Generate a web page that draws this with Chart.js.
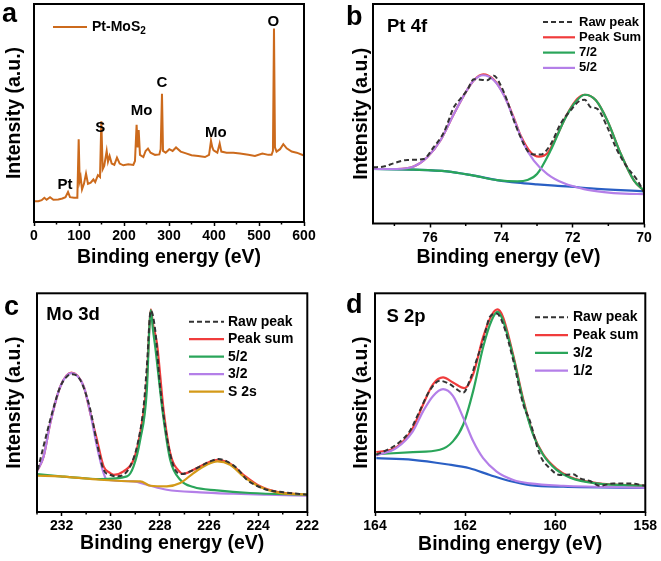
<!DOCTYPE html>
<html>
<head>
<meta charset="utf-8">
<script src="https://cdn.jsdelivr.net/npm/chart.js@4/dist/chart.umd.min.js"></script>
<style>
  body { margin: 0; background: #fff; }
  #wrap { position: relative; width: 661px; height: 561px; }
  canvas { position: absolute; }
</style>
</head>
<body>
<div id="wrap">
  <canvas id="cvA" width="330" height="280" style="left:0;top:0"></canvas>
  <canvas id="cvB" width="331" height="280" style="left:330px;top:0"></canvas>
  <canvas id="cvC" width="330" height="281" style="left:0;top:280px"></canvas>
  <canvas id="cvD" width="331" height="281" style="left:330px;top:280px"></canvas>
</div>
<script>
"use strict";

// ---- data: [binding energy (eV), intensity (a.u.)] ----

// (a) survey spectrum
const surveyTicks = [0, 100, 200, 300, 400, 500, 600];
const surveyMinor = [50, 150, 250, 350, 450, 550];
const survey = [
  [0, 9.5], [9.6, 9.5], [17, 10], [23, 11.1], [28, 10.2], [35.6, 11.4], [43, 10.2], [54, 10.3],
  [63, 10.8], [70, 11.4], [75.6, 13.8], [80, 11.4], [89, 11.1], [96.3, 11.1], [99.3, 38],
  [101.5, 18.8], [103.7, 20.6], [106.7, 14.9], [111, 17.5], [115.6, 22.2], [120, 17.5],
  [126, 18], [132, 19.5], [136, 18.3], [142, 21.5], [146.7, 20.6], [149.6, 46.2], [152.6, 24.2],
  [156, 25.7], [161.5, 32.6], [164.4, 27.7], [168, 30.3], [172.6, 26.8], [178.5, 26.2],
  [184.4, 29.5], [190.4, 26.8], [198.5, 26], [209.6, 26.5], [220.7, 26.2], [224.4, 28],
  [228, 44.6], [230.4, 34.2], [232.6, 42.2], [235.5, 30.8], [243, 29.8], [248, 32.6],
  [253.3, 33.7], [259, 31.8], [269, 30.8], [278.5, 31], [281.5, 33.4], [284.4, 58.8],
  [286.7, 32.6], [292.6, 31.8], [300.7, 33.4], [308, 32.6], [315.6, 34.2], [326, 32.3],
  [337.8, 31.5], [350, 30.6], [365, 30.3], [380, 29.8], [389, 30.8], [393.3, 37.2],
  [396.3, 34.2], [399, 32.9], [407.4, 31.8], [412.6, 36], [416.3, 32.3], [428, 31.8],
  [443, 31.8], [457.8, 31.4], [476.3, 30.8], [491, 30.3], [507.4, 31.4], [520.7, 30.8],
  [528, 30.8], [531, 32.6], [533.3, 88.8], [535.5, 34.2], [539, 32.3], [546.7, 33.4],
  [554, 35.7], [561.5, 33.8], [572.6, 32.3], [583.7, 31.8], [598.5, 30.6], [600, 30.5]
];
const surveyPeakNames = ['Pt', 'S', 'Mo', 'C', 'Mo', 'O'];
const surveyPeakEv = [69, 147, 239, 284, 404, 532];
const surveyPeakY = [17, 43, 51, 64, 41, 92];

// (b) Pt 4f
const ptTicks = [76, 74, 72, 70];
const ptMinor = [77, 75, 73, 71];
const ptRaw = [
  [77.6, 56], [77.3, 56.7], [77.02, 60], [76.64, 63.3], [76.18, 64.3], [75.9, 76], [75.61, 91],
  [75.33, 116], [75.15, 124.3], [74.96, 132.7], [74.77, 143.7], [74.59, 143.3], [74.4, 142.7],
  [74.21, 147.3], [74.02, 137.7], [73.84, 122.7], [73.65, 102.7], [73.46, 86], [73.27, 72.7],
  [73.09, 68.7], [72.9, 68.7], [72.62, 78.7], [72.34, 99.3], [72.06, 112.7], [71.78, 122.7],
  [71.66, 123.3], [71.5, 116], [71.31, 114.3], [71.03, 96], [70.75, 72.7], [70.47, 56],
  [70.18, 42.7], [70, 31]
];
const ptSum = [
  [77.6, 54.3], [76.93, 54.3], [76.46, 56.7], [76.08, 66], [75.71, 82.7], [75.33, 109.3],
  [75.05, 127.7], [74.77, 142.7], [74.51, 148.7], [74.21, 143.3], [73.93, 128.3], [73.65, 105.3],
  [73.46, 87.7], [73.18, 71], [72.95, 66.7], [72.71, 70], [72.43, 88.3], [72.15, 109.3],
  [71.87, 124.3], [71.66, 128.3], [71.35, 122.7], [71.03, 102.7], [70.65, 69.3], [70.28, 42.7],
  [70, 32.7]
];
const pt72 = [
  [77.6, 54.3], [76.46, 53.7], [75.52, 52], [74.77, 47.7], [74.12, 43.3], [73.55, 42],
  [73.27, 43.3], [73, 49.3], [72.62, 72.7], [72.24, 102.7], [71.96, 119.3], [71.66, 128.3],
  [71.35, 122.7], [71.03, 102.7], [70.65, 69.3], [70.28, 42.7], [70, 32.7]
];
const pt52 = [
  [77.6, 54.3], [76.93, 54.3], [76.46, 56.7], [76.08, 66], [75.71, 82.7], [75.33, 109.3],
  [75.05, 127.7], [74.77, 142.7], [74.51, 147.7], [74.21, 142.7], [73.93, 127.7], [73.65, 104.3],
  [73.37, 79.3], [73.09, 62.7], [72.71, 49.3], [72.24, 40], [71.68, 34.3], [71.12, 31.3],
  [70.56, 29.7], [70, 29.3]
];
const ptBg = [
  [77.6, 54.3], [76.46, 53.7], [75.52, 52], [74.77, 47.7], [74.12, 43.3], [73.55, 40.7],
  [73, 39], [72.5, 37.7], [72.06, 36.7], [71.5, 35], [70, 32]
];

// (c) Mo 3d
const moTicks = [232, 230, 228, 226, 224, 222];
const moMinor = [233, 231, 229, 227, 225, 223];
const moRaw = [
  [232.97, 42.3], [232.46, 92.3], [232.05, 125.7], [231.78, 135.7], [231.58, 138], [231.24, 132.3],
  [230.83, 102.3], [230.56, 69], [230.29, 42.3], [230.02, 37.3], [229.75, 35.7], [229.48, 37.3],
  [229.21, 45.7], [228.93, 65.7], [228.66, 105.7], [228.53, 145.7], [228.37, 201.7],
  [228.19, 182.3], [227.99, 125.7], [227.72, 75.7], [227.44, 45.7], [227.11, 38], [226.77, 40.7],
  [226.36, 45.7], [225.95, 50.7], [225.62, 53], [225.28, 50.7], [224.87, 44], [224.46, 32.3],
  [224.06, 26.3], [223.65, 22.3], [222.97, 19.7], [222, 17.3]
];
const moSum = [
  [233, 40.7], [232.73, 55.7], [232.46, 89], [232.05, 125.7], [231.6, 139.7], [231.1, 125.7],
  [230.83, 99], [230.56, 72.3], [230.29, 45.7], [230.02, 39], [229.88, 37.3], [229.48, 40.7],
  [229.07, 52.3], [228.8, 79], [228.53, 132.3], [228.43, 184], [228.37, 203], [228.28, 188],
  [228.12, 169], [227.85, 102.3], [227.58, 59], [227.17, 39.7], [227.04, 38.3], [226.63, 42.3],
  [226.09, 49], [225.66, 52.3], [225.14, 48.3], [224.6, 37.3], [223.92, 25.7], [223.24, 20.3],
  [222, 17.3]
];
const mo52 = [
  [233, 38], [232.05, 35.7], [230.83, 33.3], [230.43, 33], [229.34, 35.7], [229.07, 45.7],
  [228.8, 72.3], [228.53, 122.3], [228.43, 182.3], [228.37, 202.3], [228.28, 182.3],
  [228.19, 165.7], [227.88, 99], [227.58, 52.3], [227.17, 32.3], [226.63, 25], [225.68, 21.7],
  [224.33, 19], [222, 17.3]
];
const mo32 = [
  [233, 40.7], [232.73, 55.7], [232.46, 89], [232.05, 125.7], [231.6, 139], [231.1, 125.7],
  [230.83, 99], [230.56, 65.7], [230.29, 39], [230.15, 32.3], [229.07, 30.7], [228.53, 27.3],
  [227.72, 22.3], [226.36, 19.7], [225.01, 18.3], [223.65, 17.3], [222, 16.3]
];
const moS2s = [
  [233, 36.3], [232.05, 35.7], [230.43, 32.3], [229.07, 30.7], [228.8, 30.7], [228.39, 26.3],
  [227.72, 25.7], [227.17, 29], [226.63, 39], [226.09, 47.3], [225.66, 50.7], [225.14, 47.3],
  [224.6, 35.7], [223.92, 25], [223.24, 19.7], [222, 17.3]
];

// (d) S 2p
const sTicks = [164, 162, 160, 158];
const sMinor = [163, 161, 159];
const sRaw = [
  [163.97, 56.7], [163.53, 66.7], [163.23, 80], [163.01, 100], [162.79, 120], [162.56, 130],
  [162.34, 126.7], [162.19, 121.7], [162.04, 118.3], [161.9, 130], [161.75, 150], [161.6, 170],
  [161.45, 193.3], [161.3, 196.7], [161.16, 186.7], [160.93, 150], [160.71, 106.7], [160.56, 90],
  [160.34, 56.7], [160.12, 43.3], [159.9, 36.7], [159.6, 37.3], [159.45, 33.3], [159.23, 30.7],
  [159.01, 26], [158.71, 28.3], [158.34, 28.3], [158, 26]
];
const sSum = [
  [163.97, 59.3], [163.53, 64], [163.16, 83.3], [162.93, 106.7], [162.71, 126.7], [162.49, 133.3],
  [162.27, 128.3], [162.01, 122.7], [161.82, 136.7], [161.6, 173.3], [161.41, 195], [161.28, 200.7],
  [161.16, 193.3], [160.93, 155], [160.71, 111.7], [160.49, 77.3], [160.27, 57.3], [159.97, 42.7],
  [159.67, 34.7], [159.08, 28.7], [158, 26]
];
const s32 = [
  [163.97, 57.3], [163.16, 59.3], [162.56, 61.7], [162.27, 70], [162.04, 86.7], [161.82, 120],
  [161.6, 163.3], [161.41, 190], [161.28, 198.3], [161.16, 190], [160.93, 153.3], [160.71, 110],
  [160.49, 76.7], [160.27, 56.7], [159.97, 41.7], [159.67, 34], [159.08, 28.3], [158, 26]
];
const s12 = [
  [163.97, 56], [163.53, 63.3], [163.16, 80], [162.93, 100], [162.71, 115], [162.49, 121.7],
  [162.27, 115], [162.04, 93.3], [161.82, 70], [161.6, 53.3], [161.3, 40], [160.93, 31.7],
  [160.56, 28.3], [159.82, 26], [158, 24]
];
const sBg = [
  [163.97, 53.3], [163.16, 51.7], [162.41, 47.3], [161.9, 43.3], [161.45, 36.7], [161.01, 30.7],
  [160.56, 26.7], [159.82, 25], [158, 24]
];

// ---- styling ----
const FONT = "'Liberation Sans', Arial, sans-serif";
const RED = '#f03c3c', GREEN = '#2aa55a', PURPLE = '#b47fe8', GOLD = '#d49a18',
      BLUE = '#2a5fc4', ORANGE = '#cc6a1c', RAW = '#333333';

const toXY = arr => arr.map(p => ({ x: p[0], y: p[1] }));

function line(label, data, color, order, extra) {
  return Object.assign({
    label: label,
    data: toXY(data),
    borderColor: color,
    borderWidth: 2.2,
    pointRadius: 0,
    tension: 0.35,
    cubicInterpolationMode: 'monotone',
    fill: false,
    order: order
  }, extra || {});
}

// frame, minor ticks, in-plot legend, panel letter and texts
const panelPlugin = {
  id: 'panel',
  afterDraw(chart, args, o) {
    const { ctx, chartArea: a } = chart;
    const x = chart.scales.x, y = chart.scales.y;
    ctx.save();
    ctx.strokeStyle = '#000';
    ctx.lineWidth = 1.5;
    (o.minor || []).forEach(v => {
      const px = x.getPixelForValue(v);
      ctx.beginPath(); ctx.moveTo(px, a.bottom); ctx.lineTo(px, a.bottom + 2.5); ctx.stroke();
    });
    ctx.lineWidth = 2;
    ctx.strokeRect(a.left, a.top, a.right - a.left, a.bottom - a.top);

    ctx.fillStyle = '#000';
    ctx.textBaseline = 'alphabetic';
    ctx.textAlign = 'left';
    ctx.font = 'bold 27px ' + FONT;
    ctx.fillText(o.letter, o.letterX, o.letterY);

    if (o.title) {
      ctx.textBaseline = 'middle';
      ctx.font = 'bold 18.5px ' + FONT;
      ctx.fillText(o.title, a.left + o.titleDx, a.top + o.titleDy);
    }

    // legend
    const lg = o.legend;
    if (lg) {
      ctx.textBaseline = 'middle';
      lg.items.forEach((di, i) => {
        const ds = chart.data.datasets[di];
        const ly = lg.y + i * lg.dy;
        ctx.strokeStyle = ds.borderColor;
        ctx.lineWidth = ds.borderWidth;
        ctx.setLineDash(ds.borderDash || []);
        ctx.beginPath(); ctx.moveTo(lg.x, ly); ctx.lineTo(lg.x + lg.len, ly); ctx.stroke();
        ctx.setLineDash([]);
        ctx.fillStyle = '#000';
        const parts = ds.label.split('_');
        ctx.font = 'bold ' + lg.size + 'px ' + FONT;
        let tx = lg.x + lg.len + lg.gap;
        ctx.fillText(parts[0], tx, ly);
        if (parts[1]) {
          tx += ctx.measureText(parts[0]).width;
          ctx.font = 'bold ' + Math.round(lg.size * 0.7) + 'px ' + FONT;
          ctx.fillText(parts[1], tx, ly + 4);
        }
      });
    }

    // peak labels in data coordinates
    if (o.peaks) {
      ctx.font = 'bold 15px ' + FONT;
      ctx.textAlign = 'center';
      ctx.textBaseline = 'middle';
      ctx.fillStyle = '#000';
      o.peaks.names.forEach((n, i) => {
        ctx.fillText(n, x.getPixelForValue(o.peaks.ev[i]), y.getPixelForValue(o.peaks.y[i]));
      });
    }
    ctx.restore();
  }
};

function makeChart(id, cfg) {
  const ctx = document.getElementById(id).getContext('2d');
  return new Chart(ctx, {
    type: 'line',
    data: { datasets: cfg.datasets },
    plugins: [panelPlugin],
    options: {
      responsive: false,
      animation: false,
      layout: { padding: cfg.pad },
      plugins: { legend: { display: false }, tooltip: { enabled: false }, panel: cfg.panel },
      scales: {
        x: {
          type: 'linear',
          min: cfg.xmin, max: cfg.xmax, reverse: cfg.reverse,
          afterBuildTicks: s => { s.ticks = cfg.ticks.map(v => ({ value: v })); },
          afterFit: s => { s.height = cfg.xh; },
          grid: { display: true, drawOnChartArea: false, drawTicks: true, tickLength: 4, tickWidth: 1.5, tickColor: '#000' },
          border: { display: false },
          ticks: { color: '#000', padding: 2, maxRotation: 0, autoSkip: false,
                   font: { family: FONT, size: 14, weight: 'bold' }, callback: v => String(v) },
          title: { display: true, text: 'Binding energy (eV)', color: '#000',
                   font: { family: FONT, size: 19.5, weight: 'bold' }, padding: { top: 0, bottom: cfg.titlePad } }
        },
        y: {
          min: 0, max: cfg.ymax,
          afterFit: s => { s.width = cfg.yw; },
          grid: { display: false },
          border: { display: false },
          ticks: { display: false },
          title: { display: true, text: 'Intensity (a.u.)', color: '#000',
                   font: { family: FONT, size: 19.5, weight: 'bold' }, padding: { top: cfg.yTitlePad, bottom: 0 } }
        }
      }
    }
  });
}

// (a) survey
makeChart('cvA', {
  datasets: [line('Pt-MoS_2', survey, ORANGE, 0, { tension: 0, borderWidth: 2, cubicInterpolationMode: 'default' })],
  pad: { left: 0, right: 26, top: 4, bottom: 0 },
  xmin: 0, xmax: 600, reverse: false, ticks: surveyTicks, ymax: 100,
  xh: 58, yw: 34, titlePad: 11, yTitlePad: 3,
  panel: {
    minor: surveyMinor, letter: 'a', letterX: 2, letterY: 22,
    legend: { items: [0], x: 53, y: 27, dy: 16, len: 34, gap: 5, size: 14 },
    peaks: { names: surveyPeakNames, ev: surveyPeakEv, y: surveyPeakY }
  }
});

// (b) Pt 4f
makeChart('cvB', {
  datasets: [
    line('Raw peak', ptRaw, RAW, 0, { borderDash: [5, 3], borderWidth: 2, tension: 0.25 }),
    line('Peak Sum', ptSum, RED, 3),
    line('7/2', pt72, GREEN, 2),
    line('5/2', pt52, PURPLE, 1),
    line('bg', ptBg, BLUE, 4)
  ],
  pad: { left: 0, right: 17, top: 4, bottom: 0 },
  xmin: 70, xmax: 77.6, reverse: true, ticks: ptTicks, ymax: 218.7,
  xh: 56.5, yw: 43, titlePad: 11, yTitlePad: 20,
  panel: {
    minor: ptMinor, letter: 'b', letterX: 16, letterY: 25,
    title: 'Pt 4f', titleDx: 14, titleDy: 23,
    legend: { items: [0, 1, 2, 3], x: 213, y: 22, dy: 15.3, len: 32, gap: 4, size: 13 }
  }
});

// (c) Mo 3d
makeChart('cvC', {
  datasets: [
    line('Raw peak', moRaw, RAW, 0, { borderDash: [5, 3], borderWidth: 2, tension: 0.25 }),
    line('Peak sum', moSum, RED, 4),
    line('5/2', mo52, GREEN, 2),
    line('3/2', mo32, PURPLE, 3),
    line('S 2s', moS2s, GOLD, 1)
  ],
  pad: { left: 0, right: 22.7, top: 13.3, bottom: 0 },
  xmin: 222, xmax: 233, reverse: true, ticks: moTicks, ymax: 219,
  xh: 49, yw: 37, titlePad: 6, yTitlePad: 3,
  panel: {
    minor: moMinor, letter: 'c', letterX: 4, letterY: 35,
    title: 'Mo 3d', titleDx: 9.3, titleDy: 21.7,
    legend: { items: [0, 1, 2, 3, 4], x: 189, y: 41.7, dy: 17.5, len: 35, gap: 4, size: 14 }
  }
});

// (d) S 2p
makeChart('cvD', {
  datasets: [
    line('Raw peak', sRaw, RAW, 0, { borderDash: [5, 3], borderWidth: 2, tension: 0.25 }),
    line('Peak sum', sSum, RED, 3),
    line('3/2', s32, GREEN, 2),
    line('1/2', s12, PURPLE, 1),
    line('bg', sBg, BLUE, 4)
  ],
  pad: { left: 0, right: 15.7, top: 13.3, bottom: 0 },
  xmin: 158, xmax: 164, reverse: true, ticks: sTicks, ymax: 216.7,
  xh: 49, yw: 45, titlePad: 4.3, yTitlePad: 20,
  panel: {
    minor: sMinor, letter: 'd', letterX: 16, letterY: 33,
    title: 'S 2p', titleDx: 11.4, titleDy: 23.4,
    legend: { items: [0, 1, 2, 3], x: 205, y: 37.3, dy: 17.8, len: 33, gap: 5, size: 14 }
  }
});
</script>
</body>
</html>
